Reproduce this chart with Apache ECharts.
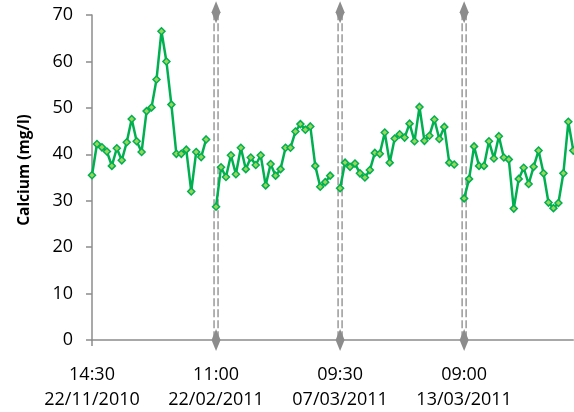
<!DOCTYPE html>
<html><head><meta charset="utf-8">
<script src="https://cdn.jsdelivr.net/npm/echarts@6/dist/echarts.min.js"></script>
<style>html,body{margin:0;padding:0;background:#fff}#c{width:574px;height:412px}</style>
</head><body><div id="c"></div>
<script>
// Calcium (mg/l) readings, four sampling campaigns
const seg1 = [35.5, 42.2, 41.5, 40.6, 37.5, 41.3, 38.7, 42.6, 47.6, 42.8, 40.5, 49.3, 50.1, 56.1, 66.5, 60.0, 50.7, 40.1, 40.1, 41.0, 32.0, 40.5, 39.4, 43.2];
const seg2 = [28.7, 37.2, 35.1, 39.8, 35.7, 41.4, 36.8, 39.3, 37.7, 39.8, 33.3, 37.9, 35.4, 36.8, 41.4, 41.4, 44.9, 46.5, 45.3, 46.0, 37.5, 33.0, 34.0, 35.4];
const seg3 = [32.7, 38.2, 37.3, 38.0, 35.9, 35.0, 36.6, 40.3, 40.1, 44.7, 38.2, 43.4, 44.3, 43.6, 46.6, 42.8, 50.2, 42.9, 44.0, 47.5, 43.3, 45.9, 38.2, 37.8];
const seg4 = [30.5, 34.7, 41.7, 37.5, 37.5, 42.8, 39.1, 43.9, 39.3, 38.9, 28.3, 34.7, 37.1, 33.6, 37.3, 40.8, 35.9, 29.6, 28.4, 29.5, 35.9, 47.0, 40.8];
const tickLabels = ['14:30\n22/11/2010', '11:00\n22/02/2011', '09:30\n07/03/2011', '09:00\n13/03/2011'];
const yTitle = 'Calcium (mg/l)';
const yTicks = [0, 10, 20, 30, 40, 50, 60, 70];

const segments = [seg1, seg2, seg3, seg4];
const values = [], categories = [], startIdx = [];
segments.forEach((s, k) => {
  if (k > 0) { values.push(null); categories.push(''); }
  startIdx.push(values.length);
  s.forEach((v, i) => { values.push(v); categories.push(i === 0 ? tickLabels[k] : ''); });
});
const breaks = startIdx.slice(1).map(i => [i, 0]);
const isTick = (i) => startIdx.indexOf(i) >= 0;

const FONT = '"Open Sans", "Noto Sans", sans-serif';
const chart = echarts.init(document.getElementById('c'), null, {renderer: 'canvas'});
chart.setOption({
  animation: false,
  backgroundColor: '#ffffff',
  grid: {left: 92, right: 0.7, top: 15, bottom: 65, containLabel: false},
  xAxis: {
    type: 'category', data: categories, boundaryGap: false,
    axisLine: {show: true, lineStyle: {color: '#8c8c8c', width: 1.5}},
    axisTick: {show: true, length: 6, interval: (i) => isTick(i), lineStyle: {color: '#8c8c8c', width: 1.5}},
    axisLabel: {interval: (i) => isTick(i), color: '#000', fontFamily: FONT, fontSize: 18, lineHeight: 25, margin: 22},
    splitLine: {show: false}
  },
  yAxis: {
    type: 'value', min: yTicks[0], max: yTicks[yTicks.length - 1], interval: 10,
    axisLine: {show: true, lineStyle: {color: '#8c8c8c', width: 1.5}},
    axisTick: {show: true, length: 6, lineStyle: {color: '#8c8c8c', width: 1.5}},
    axisLabel: {color: '#000', fontFamily: FONT, fontSize: 18, margin: 19},
    splitLine: {show: false}
  },
  graphic: [{
    type: 'text', x: 25, y: 170, rotation: Math.PI / 2,
    style: {text: yTitle, fill: '#000', font: 'bold 15.5px ' + FONT, align: 'center', verticalAlign: 'middle'}
  }],
  series: [
    {
      type: 'custom', z: 1, clip: false, data: breaks, encode: {x: 0, y: 1},
      renderItem: (params, api) => {
        const idx = api.value(0);
        const top = api.coord([idx, 70.6]);
        const bot = api.coord([idx, 0]);
        const x = top[0];
        const dash = {stroke: '#a0a0a0', lineWidth: 1.6, lineDash: [8, 3]};
        const dw = 4.5, dh = 11;
        const dia = (cy) => ({type: 'polygon', shape: {points: [[x, cy - dh], [x + dw, cy], [x, cy + dh], [x - dw, cy]]}, style: {fill: '#8c8c8c'}});
        return {type: 'group', children: [
          {type: 'line', shape: {x1: x - 2, y1: top[1], x2: x - 2, y2: bot[1]}, style: dash},
          {type: 'line', shape: {x1: x + 2, y1: top[1], x2: x + 2, y2: bot[1]}, style: dash},
          dia(top[1]), dia(bot[1])
        ]};
      }
    },
    {
      type: 'line', z: 3, data: values, connectNulls: false,
      symbol: 'diamond', symbolSize: 7, showSymbol: true, showAllSymbol: true,
      lineStyle: {color: '#00b050', width: 2.5},
      itemStyle: {color: '#9bd65a', borderColor: '#00b050', borderWidth: 1.5}
    }
  ]
});
</script></body></html>
